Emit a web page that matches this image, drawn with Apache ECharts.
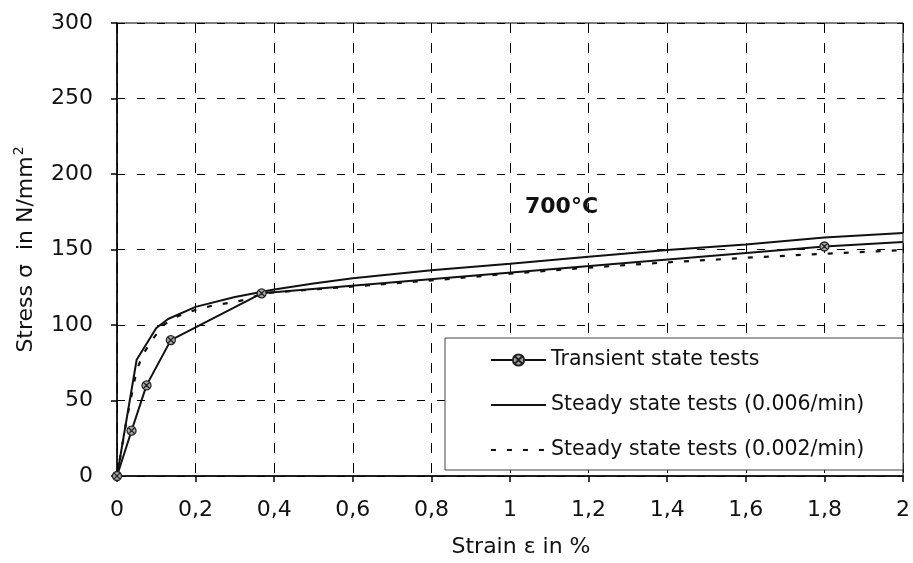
<!DOCTYPE html>
<html>
<head>
<meta charset="utf-8">
<script src="https://cdn.jsdelivr.net/npm/echarts@6/dist/echarts.min.js"></script>
<style>
html,body{margin:0;padding:0;background:#fff;}
#chart{width:913px;height:563px;}
</style>
</head>
<body>
<div id="chart"></div>
<script>
// ---- data ----
const xTickLabels = ['0','0,2','0,4','0,6','0,8','1','1,2','1,4','1,6','1,8','2'];
const yTickLabels = ['0','50','100','150','200','250','300'];

const seriesNames = [
  'Transient state tests',
  'Steady state tests (0.006/min)',
  'Steady state tests (0.002/min)'
];

const transientStrain = [0, 0.037, 0.075, 0.137, 0.368, 1.8, 2.0];
const transientStress = [0, 30, 60, 90, 121, 152, 155];

const steady006Strain = [0, 0.05, 0.1, 0.13, 0.2, 0.3, 0.4, 0.5, 0.6, 0.8, 1.0, 1.2, 1.4, 1.6, 1.8, 2.0];
const steady006Stress = [0, 77, 98, 104, 112, 118.5, 123.5, 127.5, 131, 136.2, 140.5, 145.2, 149.6, 153.3, 157.9, 161];

const steady002Strain = [0, 0.025, 0.05, 0.067, 0.092, 0.118, 0.156, 0.2, 0.245, 0.283, 0.326, 0.372, 0.42, 0.6, 0.8, 1.0, 1.2, 1.4, 1.6, 1.8, 2.0];
const steady002Stress = [0, 38, 70, 81, 91, 100, 106, 110, 113, 114.5, 116.7, 121, 122, 125.5, 129.5, 134, 138, 141.5, 144.5, 147.2, 149.6];

const annotationText = '700°C';
const xAxisTitle = 'Strain ε in %';
const yAxisTitle = 'Stress σ  in N/mm{s|2}';

// ---- build ----
const FONT = 'DejaVu Sans';
const INK = '#111';

function pairs(xs, ys) { return xs.map((x, i) => [x, ys[i]]); }

const transientData = pairs(transientStrain, transientStress).map((p, i, arr) =>
  i === arr.length - 1 ? { value: p, symbol: 'none' } : p);

const markerPath = 'path://M0,-10A10,10 0 1,1 0,10A10,10 0 1,1 0,-10Z M-7,-7L7,7 M-7,7L7,-7';

const chart = echarts.init(document.getElementById('chart'), null, { renderer: 'canvas' });

chart.setOption({
  backgroundColor: '#fff',
  animation: false,
  grid: {
    left: 117, right: 10, top: 23, bottom: 84,
    show: true, borderColor: '#000', borderWidth: 1, backgroundColor: 'transparent'
  },
  xAxis: {
    type: 'value', min: 0, max: 2, interval: 0.2,
    name: xAxisTitle, nameLocation: 'middle', nameGap: 60,
    nameTextStyle: { fontFamily: FONT, fontSize: 22, color: INK, padding: [0, 0, 0, 22] },
    axisLine: { show: true, lineStyle: { color: '#000', width: 1.5 } },
    axisTick: { show: true, length: 6, lineStyle: { color: '#000', width: 1.5 } },
    axisLabel: {
      margin: 23, fontFamily: FONT, fontSize: 22, color: INK,
      formatter: v => xTickLabels[Math.round(v / 0.2)]
    },
    splitLine: { show: true, lineStyle: { color: '#000', width: 1, type: [10, 10] } }
  },
  yAxis: {
    type: 'value', min: 0, max: 300, interval: 50,
    name: yAxisTitle, nameLocation: 'middle', nameGap: 76,
    nameTextStyle: {
      fontFamily: FONT, fontSize: 22, color: INK, lineHeight: 28,
      rich: { s: { fontFamily: FONT, fontSize: 14, color: INK, verticalAlign: 'top', lineHeight: 28, padding: [0, 0, 12, 1] } }
    },
    axisLine: { show: true, lineStyle: { color: '#000', width: 1.5 } },
    axisTick: { show: true, length: 6, lineStyle: { color: '#000', width: 1.5 } },
    axisLabel: {
      margin: 24, fontFamily: FONT, fontSize: 22, color: INK,
      formatter: v => yTickLabels[Math.round(v / 50)]
    },
    splitLine: { show: true, lineStyle: { color: '#000', width: 1, type: [8, 12] } }
  },
  legend: {
    orient: 'vertical', left: 490, top: 348,
    itemWidth: 55, itemHeight: 14, itemGap: 21, padding: 0,
    textStyle: { fontFamily: FONT, fontSize: 20.5, color: INK, lineHeight: 24 },
    data: [
      { name: seriesNames[0] },
      { name: seriesNames[1], itemStyle: { opacity: 0 } },
      { name: seriesNames[2], itemStyle: { opacity: 0 } }
    ]
  },
  graphic: [
    {
      type: 'rect', z: 3, silent: true,
      shape: { x: 445, y: 338, width: 458, height: 132 },
      style: { fill: '#fff', stroke: '#444', lineWidth: 1 }
    },
    {
      type: 'text', z: 3, silent: true, left: 525, top: 196,
      style: { text: annotationText, fontFamily: FONT, fontSize: 22, fontWeight: 'bold', fill: INK }
    }
  ],
  series: [
    {
      name: seriesNames[0], type: 'line', data: transientData,
      z: 4,
      symbol: markerPath, symbolSize: 9, showSymbol: true,
      itemStyle: { color: '#aaa', borderColor: '#222', borderWidth: 1.3 },
      lineStyle: { color: '#111', width: 2 }
    },
    {
      name: seriesNames[1], type: 'line', data: pairs(steady006Strain, steady006Stress),
      z: 4,
      symbol: 'none', showSymbol: false,
      itemStyle: { color: '#111' },
      lineStyle: { color: '#111', width: 2 }
    },
    {
      name: seriesNames[2], type: 'line', data: pairs(steady002Strain, steady002Stress),
      z: 4,
      symbol: 'none', showSymbol: false,
      itemStyle: { color: '#111' },
      lineStyle: { color: '#111', width: 2.2, type: [5, 11] }
    }
  ]
});
</script>
</body>
</html>
